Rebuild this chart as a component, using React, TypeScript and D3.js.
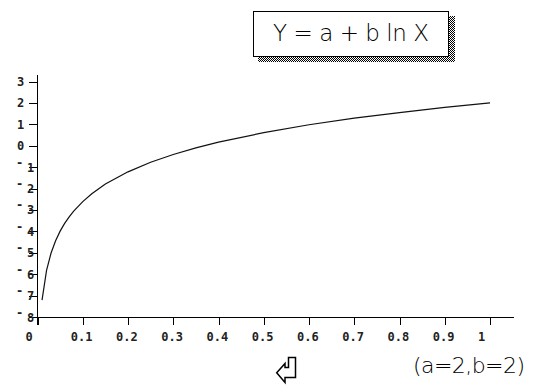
import React from 'react';
import * as d3 from 'd3';

// values: Y = a + b ln X with a=2, b=2
const xValues = [0.01, 0.02, 0.03, 0.04, 0.05, 0.06, 0.07, 0.08, 0.1, 0.12, 0.15, 0.2, 0.25, 0.3, 0.35, 0.4, 0.5, 0.6, 0.7, 0.8, 0.9, 1.0];
const yValues = [-7.21, -5.82, -5.01, -4.44, -3.99, -3.63, -3.32, -3.05, -2.61, -2.24, -1.79, -1.22, -0.77, -0.41, -0.1, 0.17, 0.61, 0.98, 1.29, 1.55, 1.79, 2.0];
const xTicks = [0, 0.1, 0.2, 0.3, 0.4, 0.5, 0.6, 0.7, 0.8, 0.9, 1];
const yTicks = [3, 2, 1, 0, -1, -2, -3, -4, -5, -6, -7, -8];
const title = 'Y = a + b ln X';
const note = '(a=2,b=2)';

const W = 533, H = 388;
const x = d3.scaleLinear().domain([0, 1]).range([37.5, 490]);
const y = d3.scaleLinear().domain([-8, 3]).range([317, 81.5]);
const mono = '"DejaVu Sans Mono", monospace';
const thin = '"DejaVu Sans", "Liberation Sans", sans-serif';

export default function App() {
  const pts: [number, number][] = xValues.map((v, i) => [x(v), y(yValues[i])]);
  const line = d3.line()(pts) || '';

  return (
    <svg width={W} height={H} style={{ position: 'absolute', left: 0, top: 0, background: '#fff' }}>
      <defs>
        <pattern id="dots" width="2" height="2" patternUnits="userSpaceOnUse">
          <rect x="0" y="0" width="1" height="1" fill="#000" />
          <rect x="1" y="1" width="1" height="1" fill="#000" />
        </pattern>
      </defs>

      {/* title box with dithered shadow */}
      <rect x={258} y={16} width={197} height={46} fill="url(#dots)" shapeRendering="crispEdges" />
      <rect x={253.5} y={11.5} width={195} height={45} fill="#fff" stroke="#000" strokeWidth={1.2} shapeRendering="crispEdges" />
      <text x={273} y={41} fontFamily={thin} fontWeight={200} fontSize={23}
        textLength={156} lengthAdjust="spacing" fill="#000">{title}</text>

      {/* y axis */}
      <line x1={37.5} x2={37.5} y1={75} y2={325} stroke="#000" shapeRendering="crispEdges" />
      {yTicks.map(t => (
        <g key={'y' + t}>
          <line x1={29} x2={37.5} y1={Math.round(y(t)) + 0.5} y2={Math.round(y(t)) + 0.5} stroke="#000" shapeRendering="crispEdges" />
          <text y={y(t) + 4.5} fontFamily={mono} fontWeight="bold" fontSize={12} fill="#222">
            {t < 0
              ? (<><tspan x={16} dy={-5}>{'-'}</tspan><tspan x={27} dy={5}>{String(-t)}</tspan></>)
              : (<tspan x={17}>{String(t)}</tspan>)}
          </text>
        </g>
      ))}

      {/* x axis */}
      <line x1={37.5} x2={514} y1={317.5} y2={317.5} stroke="#000" shapeRendering="crispEdges" />
      {xTicks.map(t => (
        <g key={'x' + t}>
          <line x1={Math.round(x(t)) + 0.5} x2={Math.round(x(t)) + 0.5} y1={317.5} y2={325} stroke="#000" shapeRendering="crispEdges" />
          <text x={x(t) - 12} y={341} fontFamily={mono} fontWeight="bold" fontSize={12} fill="#222">{String(t)}</text>
        </g>
      ))}

      {/* curve */}
      <path d={line} fill="none" stroke="#111" strokeWidth={1.2} />

      <text x={413} y={373} fontFamily={thin} fontWeight={200} fontSize={22}
        textLength={112} lengthAdjust="spacing" fill="#000">{note}</text>

      {/* return-key glyph */}
      <path d="M276.7,372.7 L285,363.5 L285,367.5 L288.5,367.5 L288.5,357.5 L295.5,357.5 L295.5,377.5 L285,377.5 L285,382.5 Z"
        fill="#fff" stroke="#000" strokeWidth={1.5} strokeLinejoin="miter" />
    </svg>
  );
}
